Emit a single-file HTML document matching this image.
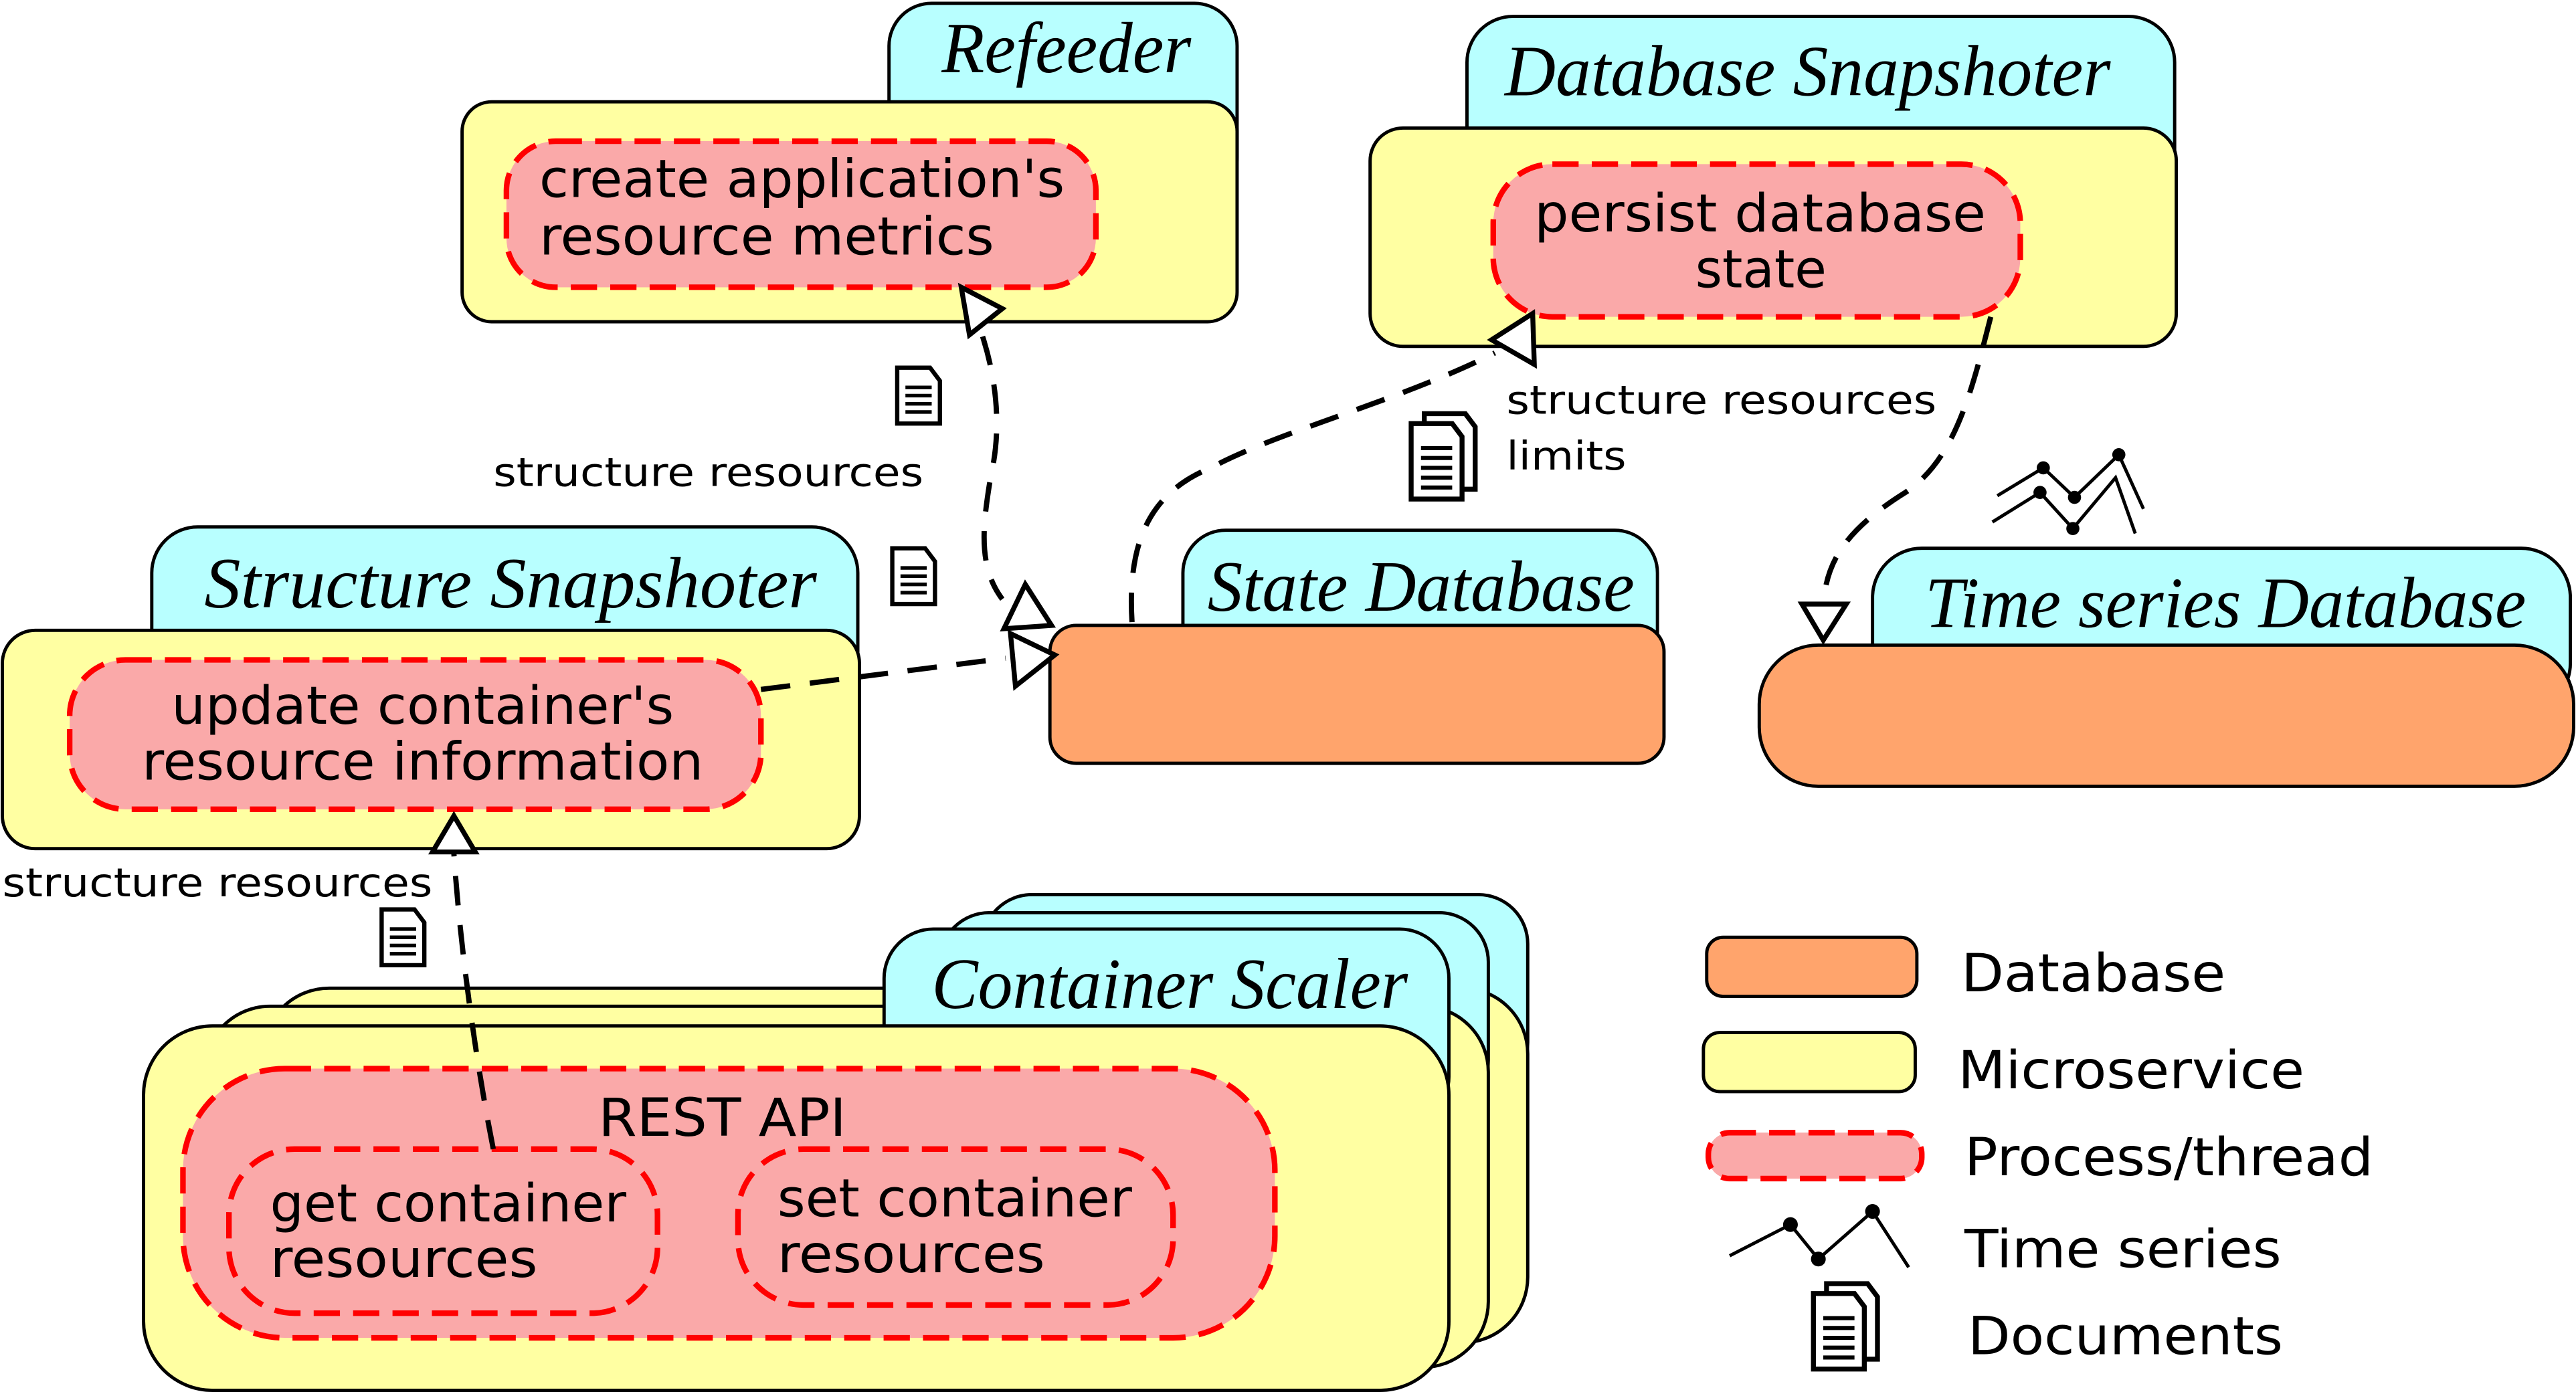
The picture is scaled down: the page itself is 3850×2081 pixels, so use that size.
<!DOCTYPE html>
<html><head><meta charset="utf-8"><style>
html,body{margin:0;padding:0;background:#fff;}
svg{display:block;}
.t{font-family:"Liberation Serif","DejaVu Serif",serif;font-style:italic;font-size:44px;fill:#000;}
.p{font-family:"DejaVu Sans","Liberation Sans",sans-serif;font-size:32px;fill:#000;}
.l{font-family:"DejaVu Sans","Liberation Sans",sans-serif;font-size:24px;fill:#000;}
.g{font-family:"DejaVu Sans","Liberation Sans",sans-serif;font-size:32px;fill:#000;}
</style></head><body>
<svg width="3850" height="2081" viewBox="0 0 1568 848" xmlns="http://www.w3.org/2000/svg">
<defs>
<g id="doc">
<path d="M0,0 H20 L26,8 V34 H0 Z" fill="#fff" stroke="#000" stroke-width="2.6"/>
<path d="M5,12 H21 M5,17 H21 M5,22 H21 M5,27 H21" stroke="#000" stroke-width="2.2"/>
</g>
<g id="docs">
<path d="M8,0 H33 L39,8 V46 H8 Z" fill="#fff" stroke="#000" stroke-width="3"/>
<path d="M0,6 H25 L31,14 V52 H0 Z" fill="#fff" stroke="#000" stroke-width="3"/>
<path d="M6,21 H25 M6,27 H25 M6,33 H25 M6,39 H25 M6,45 H25" stroke="#000" stroke-width="2.5"/>
</g>
</defs>
<g stroke="#000" stroke-width="2">
<rect x="541" y="2" width="212" height="120" rx="26" fill="#b8ffff"/>
<rect x="281" y="62" width="472" height="134" rx="18" fill="#ffffa2"/>
<rect x="893" y="10" width="431" height="120" rx="28" fill="#b8ffff"/>
<rect x="834" y="78" width="491" height="133" rx="20" fill="#ffffa2"/>
<rect x="92" y="321" width="430" height="120" rx="28" fill="#b8ffff"/>
<rect x="1" y="384" width="522" height="133" rx="20" fill="#ffffa2"/>
<rect x="720" y="323" width="289" height="100" rx="26" fill="#b8ffff"/>
<rect x="639" y="381" width="374" height="84" rx="16" fill="#ffa46c"/>
<rect x="1140" y="334" width="425" height="100" rx="30" fill="#b8ffff"/>
<rect x="1071" y="393" width="496" height="86" rx="36" fill="#ffa46c"/>
<rect x="598" y="545" width="332" height="120" rx="30" fill="#b8ffff"/>
<rect x="160" y="602" width="770" height="216" rx="40" fill="#ffffa2"/>
<rect x="572" y="556" width="334" height="120" rx="30" fill="#b8ffff"/>
<rect x="124" y="613" width="782" height="220" rx="40" fill="#ffffa2"/>
<rect x="538" y="566" width="344" height="120" rx="30" fill="#b8ffff"/>
<rect x="87" y="625" width="795" height="222" rx="42" fill="#ffffa2"/>
<rect x="1039" y="571" width="128" height="36" rx="10" fill="#ffa46c"/>
<rect x="1037" y="629" width="129" height="36" rx="10" fill="#ffffa2"/>
</g>
<g fill="#faa9a9" stroke="#f00" stroke-width="3.4" stroke-dasharray="16,8">
<rect x="308" y="86" width="359" height="89" rx="30"/>
<rect x="909" y="100" width="321" height="93" rx="36"/>
<rect x="42" y="402" width="421" height="91" rx="34"/>
<rect x="111" y="651" width="665" height="164" rx="62"/>
<rect x="139" y="700" width="261" height="100" rx="40"/>
<rect x="449" y="700" width="265" height="95" rx="40"/>
<rect x="1040" y="690" width="130" height="28" rx="13"/>
</g>
<text class="t" x="573" y="44" textLength="152" lengthAdjust="spacingAndGlyphs">Refeeder</text>
<text class="t" x="916" y="58" textLength="369" lengthAdjust="spacingAndGlyphs">Database Snapshoter</text>
<text class="t" x="124" y="370" textLength="373" lengthAdjust="spacingAndGlyphs">Structure Snapshoter</text>
<text class="t" x="735" y="372" textLength="260" lengthAdjust="spacingAndGlyphs">State Database</text>
<text class="t" x="1172" y="382" textLength="366" lengthAdjust="spacingAndGlyphs">Time series Database</text>
<text class="t" x="567" y="614" textLength="290" lengthAdjust="spacingAndGlyphs">Container Scaler</text>
<text class="p" x="328" y="120" textLength="320" lengthAdjust="spacingAndGlyphs">create application's</text>
<text class="p" x="328" y="155" textLength="277" lengthAdjust="spacingAndGlyphs">resource metrics</text>
<text class="p" x="934" y="141" textLength="275" lengthAdjust="spacingAndGlyphs">persist database</text>
<text class="p" x="1032" y="175" textLength="80" lengthAdjust="spacingAndGlyphs">state</text>
<text class="p" x="104" y="441" textLength="306" lengthAdjust="spacingAndGlyphs">update container's</text>
<text class="p" x="86" y="475" textLength="342" lengthAdjust="spacingAndGlyphs">resource information</text>
<text class="p" x="364" y="692" textLength="151" lengthAdjust="spacingAndGlyphs">REST API</text>
<text class="p" x="164" y="744" textLength="217" lengthAdjust="spacingAndGlyphs">get container</text>
<text class="p" x="164" y="778" textLength="163" lengthAdjust="spacingAndGlyphs">resources</text>
<text class="p" x="473" y="741" textLength="216" lengthAdjust="spacingAndGlyphs">set container</text>
<text class="p" x="473" y="775" textLength="163" lengthAdjust="spacingAndGlyphs">resources</text>
<text class="l" x="300" y="296" textLength="262" lengthAdjust="spacingAndGlyphs">structure resources</text>
<text class="l" x="917" y="252" textLength="262" lengthAdjust="spacingAndGlyphs">structure resources</text>
<text class="l" x="917" y="286" textLength="73" lengthAdjust="spacingAndGlyphs">limits</text>
<text class="l" x="1" y="546" textLength="262" lengthAdjust="spacingAndGlyphs">structure resources</text>
<text class="g" x="1194" y="604" textLength="161" lengthAdjust="spacingAndGlyphs">Database</text>
<text class="g" x="1192" y="663" textLength="211" lengthAdjust="spacingAndGlyphs">Microservice</text>
<text class="g" x="1196" y="716" textLength="249" lengthAdjust="spacingAndGlyphs">Process/thread</text>
<text class="g" x="1196" y="772" textLength="193" lengthAdjust="spacingAndGlyphs">Time series</text>
<text class="g" x="1198" y="825" textLength="192" lengthAdjust="spacingAndGlyphs">Documents</text>
<g fill="none" stroke="#000" stroke-width="3.2" stroke-dasharray="18,12">
<path d="M598,205 C606,230 610,260 603,290 C598,320 595,345 610,365"/>
<path d="M463,420 L612,401"/>
<path d="M689,379 C686,330 700,300 737,285 C780,262 850,245 910,215"/>
<path d="M1212,193 C1200,240 1190,280 1160,300 C1120,325 1112,345 1110,368"/>
<path d="M300,700 C290,650 280,580 276,520"/>
</g>
<g fill="#fff" stroke="#000" stroke-width="3">
<polygon points="585,175 610,188 590,204"/>
<polygon points="624,356 640,381 611,383"/>
<polygon points="615,386 642,399 618,418"/>
<polygon points="933,191 908,207 934,222"/>
<polygon points="1097,368 1124,368 1110,390"/>
<polygon points="276,497 263,519 289,519"/>
</g>
<g fill="none" stroke="#000" stroke-width="2">
<polyline points="1216,302 1244,285 1263,303 1290,277 1305,310"/>
<polyline points="1213,318 1242,300 1262,322 1288,291 1300,325"/>
<polyline points="1053,765 1090,746 1107,767 1140,738 1162,772"/>
</g>
<g fill="#000">
<circle cx="1244" cy="285" r="4"/><circle cx="1263" cy="303" r="4"/><circle cx="1290" cy="277" r="4"/>
<circle cx="1242" cy="300" r="4"/><circle cx="1262" cy="322" r="4"/>
<circle cx="1090" cy="746" r="4.5"/><circle cx="1107" cy="767" r="4.5"/><circle cx="1140" cy="738" r="4.5"/>
</g>
<use href="#doc" x="546" y="224"/>
<use href="#doc" x="543" y="334"/>
<use href="#doc" x="232" y="554"/>
<use href="#docs" x="859" y="252"/>
<use href="#docs" x="1104" y="782"/>
</svg>
</body></html>
